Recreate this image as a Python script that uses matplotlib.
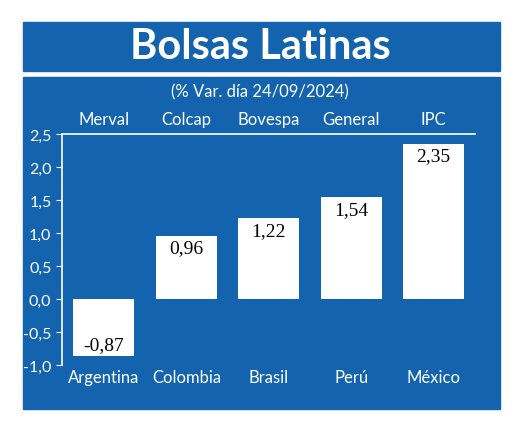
import matplotlib.pyplot as plt
from matplotlib.patches import Rectangle

countries = ["Argentina", "Colombia", "Brasil", "Perú", "México"]
indices = ["Merval", "Colcap", "Bovespa", "General", "IPC"]
values = [-0.87, 0.96, 1.22, 1.54, 2.35]
yticks = [-1.0, -0.5, 0.0, 0.5, 1.0, 1.5, 2.0, 2.5]

BLUE = "#1463ae"
plt.rcParams["font.family"] = ["Lato", "DejaVu Sans"]

fig = plt.figure(figsize=(5.2, 4.27), dpi=100)
fig.patch.set_facecolor("white")

# background panels
bg = fig.add_axes([0, 0, 1, 1], zorder=0)
bg.set_xlim(0, 520)
bg.set_ylim(427, 0)
bg.axis("off")
bg.add_patch(Rectangle((23, 23), 477, 49, color=BLUE))
bg.add_patch(Rectangle((23, 78), 477, 332, color=BLUE))

fig.text(0.5, 1 - 47 / 427, "Bolsas Latinas", color="white", fontsize=30,
         fontweight="bold", ha="center", va="center")
fig.text(0.5, 1 - 92 / 427, "(% Var. día 24/09/2024)", color="white",
         fontsize=12, ha="center", va="center")

ax = fig.add_axes([0.119, 0.143, 0.794, 0.541], zorder=1)
ax.set_facecolor(BLUE)
x = range(len(values))
ax.bar(x, values, width=0.74, color="white")
ax.set_xlim(-0.51, 4.5)
ax.set_ylim(-1.0, 2.5)
ax.set_yticks(yticks)
ax.set_yticklabels([f"{t:.1f}".replace(".", ",") for t in yticks])
ax.tick_params(axis="y", colors="white", labelsize=11.5, length=4)
ax.tick_params(axis="x", length=0, colors="white", labelsize=12, pad=3)
ax.set_xticks(list(x))
ax.set_xticklabels(countries)
for s in ["right", "bottom"]:
    ax.spines[s].set_visible(False)
for s in ["left", "top"]:
    ax.spines[s].set_color("white")
    ax.spines[s].set_linewidth(1.2)

for i, (v, name) in enumerate(zip(values, indices)):
    ax.text(i, 2.5 + 0.1, name, color="white", fontsize=12, ha="center", va="bottom")
    lbl = f"{v:.2f}".replace(".", ",")
    if v >= 0:
        ax.text(i, v - 0.05, lbl, ha="center", va="top",
                fontsize=14, family="Liberation Serif", color="black")
    else:
        ax.text(i, v + 0.05, lbl, ha="center", va="bottom",
                fontsize=14, family="Liberation Serif", color="black")

fig.savefig("out.png", dpi=100)
